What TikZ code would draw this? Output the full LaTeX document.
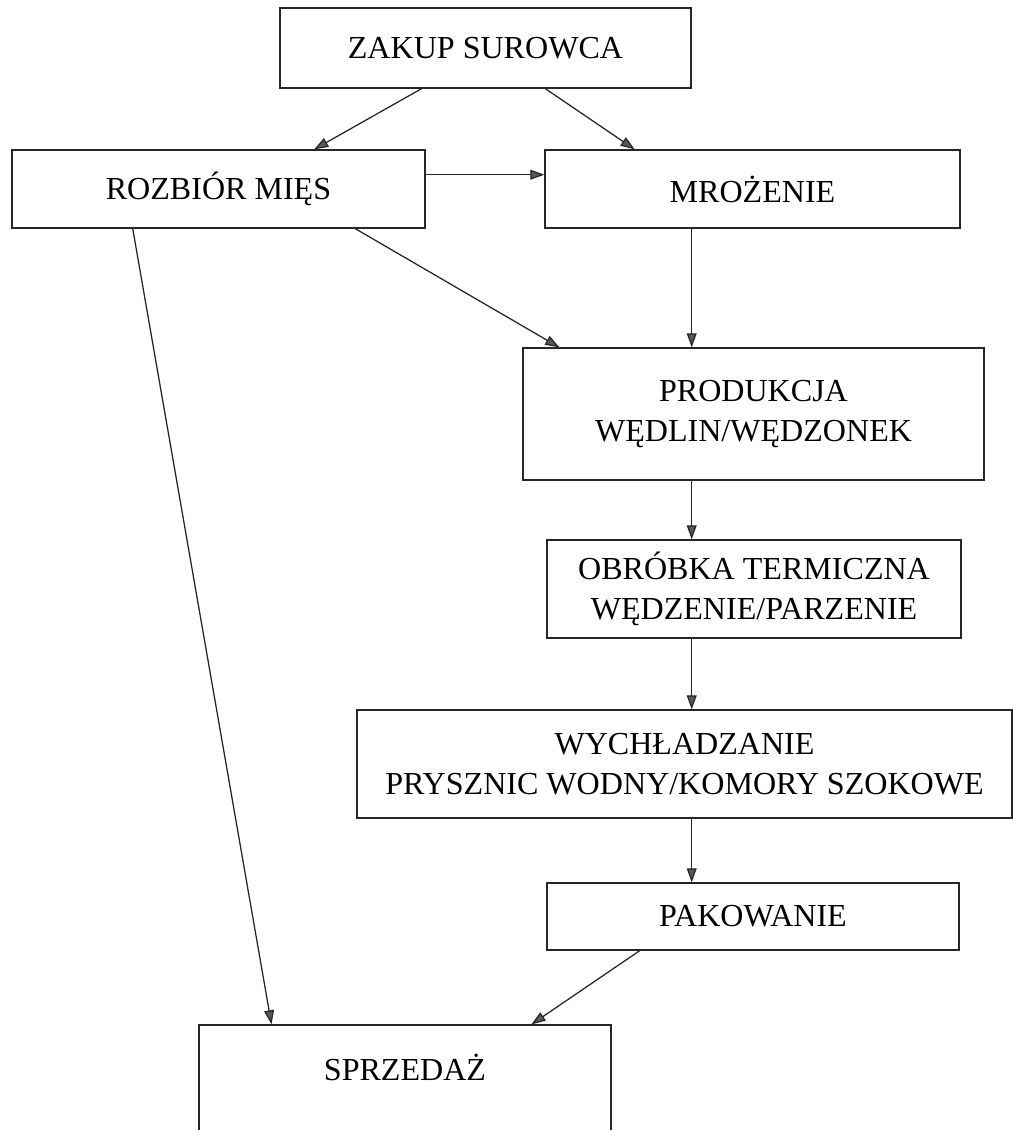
\documentclass[tikz,border=0pt]{standalone}
\usepackage{fontspec}
\setmainfont{Liberation Serif}
\usetikzlibrary{arrows.meta,calc,positioning}

\begin{document}
\begin{tikzpicture}[x=0.025cm, y=-0.025cm,
    box/.style={rectangle, draw=black!85, line width=0.9pt, inner sep=0pt, align=center, font=\fontsize{22.8}{28}\selectfont},
    flow/.style={-{Triangle[length=10pt, width=7pt, fill=black!65]}, draw=black!85, line width=0.9pt}]
    \clip (0,0) rectangle (1013,1130);
    \node[box, minimum width=10.275cm, minimum height=2cm] (zakup) at (485.5,48) {ZAKUP SUROWCA};
    \node[box, minimum width=10.325cm, minimum height=1.95cm] (rozbior) at (218.5,189) {ROZBIÓR MIĘS};
    \node[box, minimum width=10.375cm, minimum height=1.95cm] (mrozenie) at (752.5,189) {MROŻENIE};
    \node[box, minimum width=11.525cm, minimum height=3.3cm] (produkcja) at (753.5,414) {PRODUKCJA\\WĘDLIN/WĘDZONEK};
    \node[box, minimum width=10.35cm, minimum height=2.45cm] (obrobka) at (754,589) {OBRÓBKA TERMICZNA\\WĘDZENIE/PARZENIE};
    \node[box, minimum width=16.375cm, minimum height=2.7cm] (wych) at (684.5,764) {WYCHŁADZANIE\\PRYSZNIC WODNY/KOMORY SZOKOWE};
    \node[box, minimum width=10.3cm, minimum height=1.675cm] (pakowanie) at (753,916.5) {PAKOWANIE};
    \node[box, minimum width=10.3cm, minimum height=2.8cm, text depth=20pt] (sprzedaz) at (405,1081) {SPRZEDAŻ};

    \draw[flow] ($(zakup.south west)!.345!(zakup.south east)$) -- ($(rozbior.north west)!.731!(rozbior.north east)$);
    \draw[flow] ($(zakup.south west)!.645!(zakup.south east)$) -- ($(mrozenie.north west)!.217!(mrozenie.north east)$);
    \draw[flow] ($(rozbior.north east)!.32!(rozbior.south east)$) -- ($(mrozenie.north west)!.32!(mrozenie.south west)$);
    \draw[flow] ($(rozbior.south west)!.83!(rozbior.south east)$) -- ($(produkcja.north west)!.08!(produkcja.north east)$);
    \draw[flow] ($(rozbior.south west)!.293!(rozbior.south east)$) -- ($(sprzedaz.north west)!.177!(sprzedaz.north east)$);
    \draw[flow] ($(mrozenie.south west)!.354!(mrozenie.south east)$) coordinate (spine) -- (spine |- produkcja.north);
    \draw[flow] (spine |- produkcja.south) -- (spine |- obrobka.north);
    \draw[flow] (spine |- obrobka.south) -- (spine |- wych.north);
    \draw[flow] (spine |- wych.south) -- (spine |- pakowanie.north);
    \draw[flow] ($(pakowanie.south west)!.226!(pakowanie.south east)$) -- ($(sprzedaz.north west)!.806!(sprzedaz.north east)$);
\end{tikzpicture}
\end{document}
